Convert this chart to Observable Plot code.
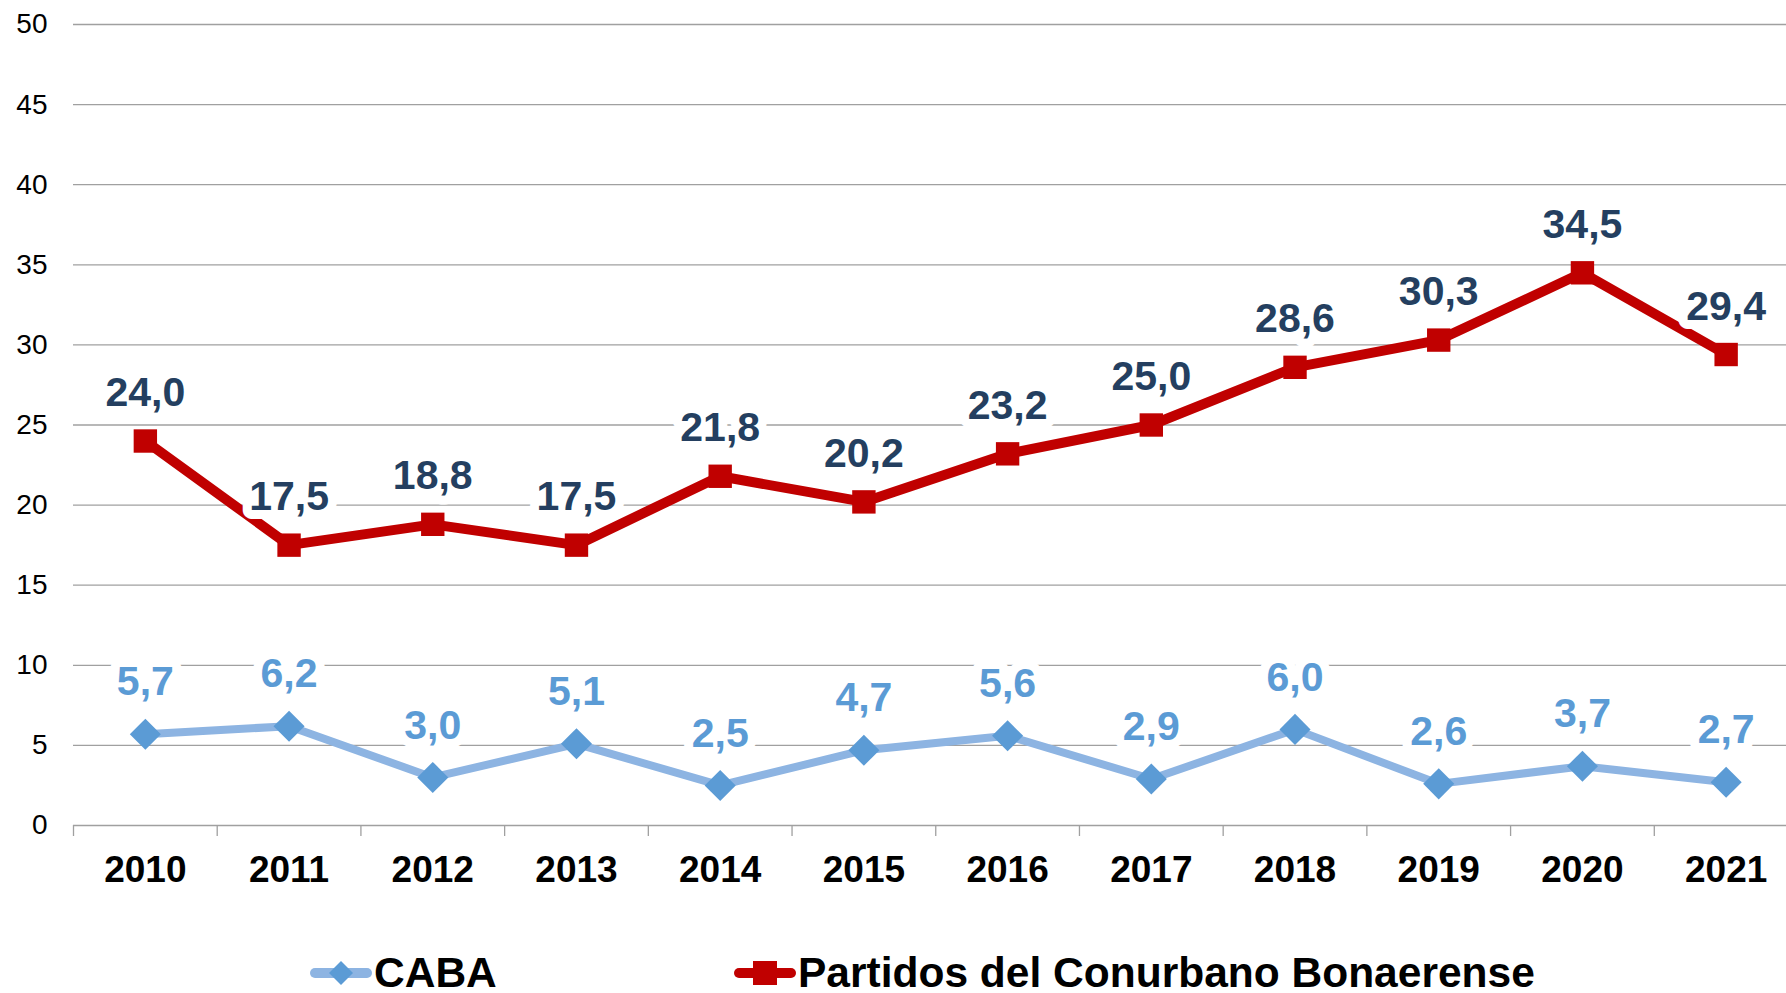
<!DOCTYPE html>
<html>
<head>
<meta charset="utf-8">
<script src="https://cdn.jsdelivr.net/npm/d3@7"></script>
<script src="https://cdn.jsdelivr.net/npm/@observablehq/plot@0.6"></script>
<style>
  html, body { margin: 0; padding: 0; background: #fff; overflow: hidden; }
  #wrap { position: relative; width: 1786px; height: 993px; font-family: "Liberation Sans", Arial, sans-serif; }
  #legend { position: absolute; left: 0; top: 956px; width: 1786px; height: 34px; }
  .item { position: absolute; top: 0; height: 34px; display: flex; align-items: center; font-weight: bold; font-size: 42.5px; line-height: 34px; color: #000; white-space: nowrap; }
  .item svg { display: block; margin-right: 2px; }
</style>
</head>
<body>
<div id="wrap">
  <div id="chart"></div>
  <div id="legend"></div>
</div>
<script>
const years = [2010, 2011, 2012, 2013, 2014, 2015, 2016, 2017, 2018, 2019, 2020, 2021];
const caba = [5.7, 6.2, 3.0, 5.1, 2.5, 4.7, 5.6, 2.9, 6.0, 2.6, 3.7, 2.7];
const partidos = [24.0, 17.5, 18.8, 17.5, 21.8, 20.2, 23.2, 25.0, 28.6, 30.3, 34.5, 29.4];
const yTicks = [0, 5, 10, 15, 20, 25, 30, 35, 40, 45, 50];
const seriesNames = ["CABA", "Partidos del Conurbano Bonaerense"];

const cabaData = years.map((year, i) => ({year, value: caba[i]}));
const partData = years.map((year, i) => ({year, value: partidos[i]}));
const boundaries = d3.range(years.length + 1).map(i => years[0] - 0.5 + i);
const fmt = v => v.toFixed(1).replace(".", ",");

const RED = "#C00000", NAVY = "#243F60", BLUE = "#5B9BD5", LIGHTBLUE = "#8DB4E2";

const chart = Plot.plot({
  width: 1786,
  height: 940,
  marginLeft: 73,
  marginRight: 0,
  marginTop: 24,
  marginBottom: 115,
  style: {fontFamily: "Liberation Sans, Arial, sans-serif", background: "#fff", overflow: "hidden"},
  x: {domain: [years[0] - 0.5, years[years.length - 1] + 0.5], range: [73, 1797.5]},
  y: {domain: [0, 50]},
  marks: [
    Plot.gridY(yTicks, {stroke: "#a0a0a0", strokeOpacity: 1, strokeWidth: 1.3}),
    Plot.axisY(yTicks, {tickSize: 0, tickPadding: 26, fontSize: 28, fill: "#000", label: null}),
    Plot.axisX(boundaries, {tickSize: 11, tickFormat: () => "", stroke: "#a0a0a0", strokeWidth: 1.3, label: null}),
    Plot.axisX(years, {tickSize: 0, tickPadding: 30, tickFormat: d => String(d), fontSize: 37, fontWeight: "bold", fill: "#000", label: null}),
    Plot.line(partData, {x: "year", y: "value", stroke: RED, strokeWidth: 10}),
    Plot.line(cabaData, {x: "year", y: "value", stroke: LIGHTBLUE, strokeWidth: 8}),
    Plot.dot(partData, {x: "year", y: "value", symbol: "square", r: 13.2, fill: RED, stroke: "none"}),
    Plot.dot(cabaData, {x: "year", y: "value", symbol: "diamond2", r: 14, fill: BLUE, stroke: "none"}),
    Plot.text(partData, {x: "year", y: "value", text: d => fmt(d.value), dy: -48, fontSize: 41, fontWeight: "bold", fill: NAVY, stroke: "white", strokeWidth: 18, lineAnchor: "middle"}),
    Plot.text(cabaData, {x: "year", y: "value", text: d => fmt(d.value), dy: -52, fontSize: 41, fontWeight: "bold", fill: BLUE, stroke: "white", strokeWidth: 18, lineAnchor: "middle"})
  ]
});
document.getElementById("chart").appendChild(chart);

// Legend
const legend = document.getElementById("legend");
const items = [
  {name: seriesNames[0], left: 310, line: LIGHTBLUE, marker: BLUE, shape: "diamond"},
  {name: seriesNames[1], left: 734, line: RED, marker: RED, shape: "square"}
];
for (const it of items) {
  const div = document.createElement("div");
  div.className = "item";
  div.style.left = it.left + "px";
  const ns = "http://www.w3.org/2000/svg";
  const svg = document.createElementNS(ns, "svg");
  svg.setAttribute("width", 62); svg.setAttribute("height", 30);
  const ln = document.createElementNS(ns, "line");
  ln.setAttribute("x1", 5); ln.setAttribute("x2", 57); ln.setAttribute("y1", 15); ln.setAttribute("y2", 15);
  ln.setAttribute("stroke", it.line); ln.setAttribute("stroke-width", 10); ln.setAttribute("stroke-linecap", "round");
  svg.appendChild(ln);
  let m;
  if (it.shape === "diamond") {
    m = document.createElementNS(ns, "path");
    m.setAttribute("d", "M31,3 L43,15 L31,27 L19,15 Z");
  } else {
    m = document.createElementNS(ns, "rect");
    m.setAttribute("x", 19); m.setAttribute("y", 3); m.setAttribute("width", 24); m.setAttribute("height", 24);
  }
  m.setAttribute("fill", it.marker);
  svg.appendChild(m);
  div.appendChild(svg);
  const span = document.createElement("span");
  span.textContent = it.name;
  div.appendChild(span);
  legend.appendChild(div);
}
</script>
</body>
</html>
